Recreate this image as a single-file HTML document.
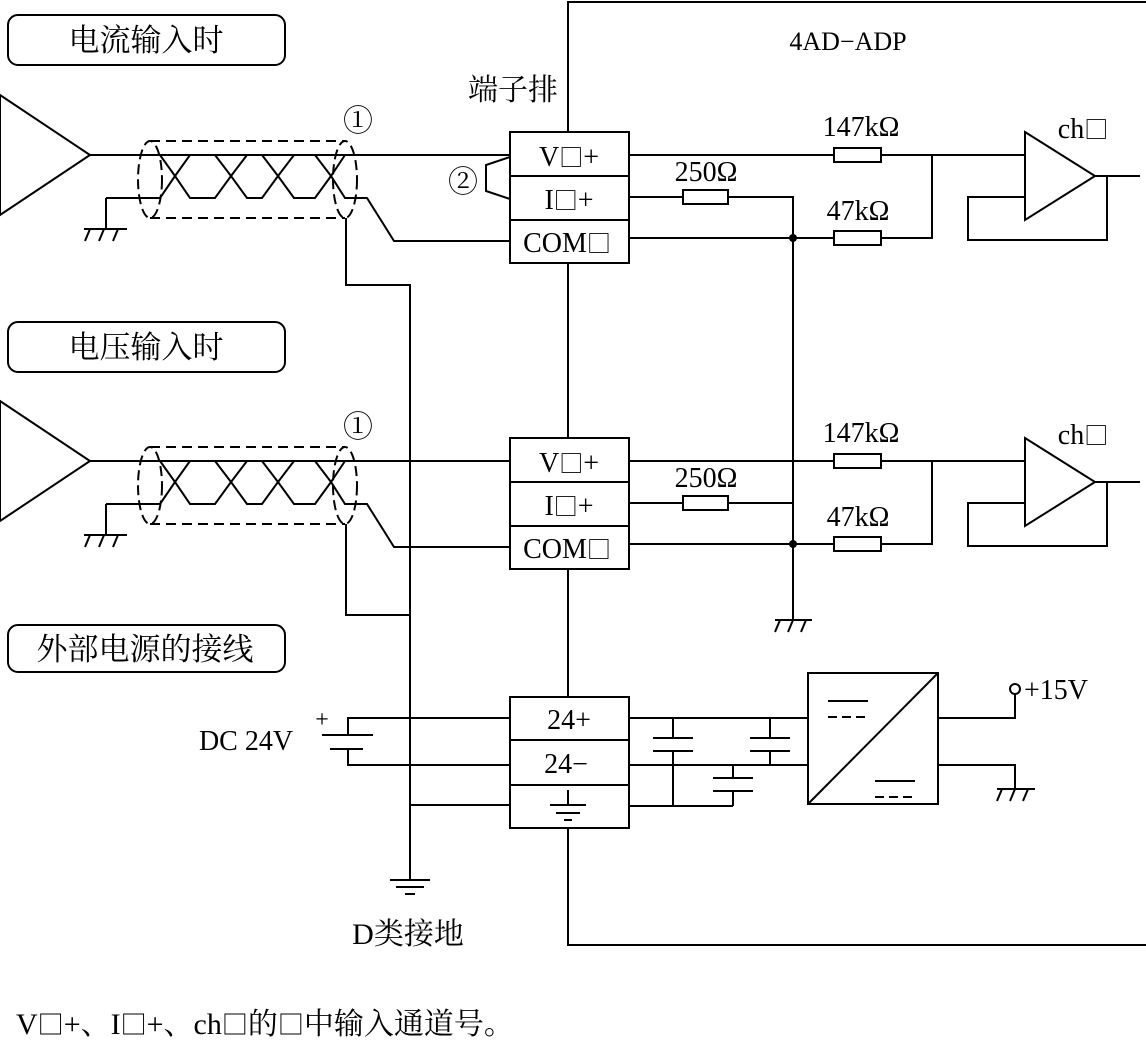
<!DOCTYPE html>
<html><head><meta charset="utf-8"><style>
html,body{margin:0;padding:0;background:#fff;}
svg{display:block;}
text{font-family:"Liberation Serif","Noto Serif CJK SC","Noto Sans CJK SC",serif;fill:#000;}
.cjk{font-family:"Liberation Serif","Noto Serif CJK SC",serif;}
.sq{font-family:"Noto Sans CJK SC",sans-serif;}
</style></head><body>
<svg width="1146" height="1040" viewBox="0 0 1146 1040" xmlns="http://www.w3.org/2000/svg" fill="none" stroke="#000" stroke-width="2">
<defs>
<g id="inp">
  <polygon points="0,95 90,155 0,215" fill="#fff"/>
  <line x1="90" y1="155" x2="510" y2="155"/>
  <polyline points="84,229 127,229"/>
  <line x1="106" y1="198" x2="106" y2="229"/>
  <line x1="106" y1="198" x2="160" y2="198"/>
  <line x1="90" y1="229" x2="85" y2="241"/><line x1="104" y1="229" x2="99" y2="241"/><line x1="118" y1="229" x2="113" y2="241"/>
  <polyline points="160,155 175,176 190,198 215,198 231,176 247,155 262,155 278,176 294,198 315,198 331,176 345,155"/>
  <polyline points="160,198 175,176 190,155 215,155 231,176 247,198 262,198 278,176 294,155 315,155 331,176 345,198 367,198 394,241 510,241"/>
  <line x1="150" y1="141" x2="345" y2="141" stroke-dasharray="10,6"/>
  <line x1="150" y1="218" x2="345" y2="218" stroke-dasharray="10,6"/>
  <ellipse cx="150" cy="179.5" rx="12" ry="38.5" stroke-dasharray="10,5"/>
  <ellipse cx="345" cy="179.5" rx="12" ry="38.5" stroke-dasharray="10,5"/>
  <text x="358" y="131" font-size="30" text-anchor="middle" stroke="none">①</text>
  <rect x="510" y="132" width="119" height="131" fill="#fff"/>
  <line x1="510" y1="176" x2="629" y2="176"/><line x1="510" y1="220" x2="629" y2="220"/>
  <text x="569" y="166" font-size="28" text-anchor="middle" stroke="none">V<tspan class="sq" font-size="24">□</tspan>+</text>
  <text x="569" y="209" font-size="28" text-anchor="middle" stroke="none">I<tspan class="sq" font-size="24">□</tspan>+</text>
  <text x="567" y="252" font-size="28" text-anchor="middle" stroke="none">COM<tspan class="sq" font-size="24">□</tspan></text>
  <line x1="629" y1="155" x2="1025" y2="155"/>
  <rect x="834" y="148" width="47" height="14" fill="#fff"/>
  <text x="861" y="136" font-size="28" text-anchor="middle" stroke="none">147kΩ</text>
  <polyline points="629,197 793,197 793,241"/>
  <rect x="683" y="190" width="45" height="14" fill="#fff"/>
  <text x="706" y="181" font-size="28" text-anchor="middle" stroke="none">250Ω</text>
  <polyline points="629,238 932,238 932,155"/>
  <rect x="834" y="231" width="47" height="14" fill="#fff"/>
  <text x="858" y="220" font-size="28" text-anchor="middle" stroke="none">47kΩ</text>
  <circle cx="793" cy="238" r="4" fill="#000" stroke="none"/>
  <polygon points="1025,132 1095,176 1025,220" fill="#fff"/>
  <polyline points="1025,197 968,197 968,240 1107,240 1107,176"/>
  <line x1="1095" y1="176" x2="1140" y2="176"/>
  <text x="1083" y="138" font-size="28" text-anchor="middle" stroke="none">ch<tspan class="sq" font-size="24">□</tspan></text>
</g>
</defs>
<polyline points="1146,2 568,2 568,945 1146,945"/>
<text x="848" y="50" font-size="26" text-anchor="middle" stroke="none">4AD−ADP</text>
<text class="cjk" x="513" y="100" font-size="30" text-anchor="middle" stroke="none">端子排</text>
<rect x="8" y="15" width="277" height="50" rx="10"/>
<text class="cjk" x="146" y="51" font-size="31" text-anchor="middle" stroke="none">电流输入时</text>
<rect x="8" y="322" width="277" height="50" rx="10"/>
<text class="cjk" x="146" y="358" font-size="31" text-anchor="middle" stroke="none">电压输入时</text>
<rect x="8" y="625" width="277" height="47" rx="10"/>
<text class="cjk" x="145" y="660" font-size="31" text-anchor="middle" stroke="none">外部电源的接线</text>
<polyline points="346,218 346,285 410,285 410,880"/>
<polyline points="346,524 346,615 410,615"/>
<line x1="390" y1="880" x2="430" y2="880"/><line x1="396" y1="887" x2="424" y2="887"/><line x1="405" y1="894" x2="415" y2="894"/>
<text class="cjk" x="408" y="944" font-size="30" text-anchor="middle" stroke="none">D类接地</text>
<line x1="793" y1="238" x2="793" y2="620"/>
<line x1="775" y1="620" x2="812" y2="620"/>
<line x1="780" y1="620" x2="775" y2="632"/><line x1="793" y1="620" x2="788" y2="632"/><line x1="806" y1="620" x2="801" y2="632"/>
<use href="#inp"/>
<use href="#inp" y="306"/>
<polyline points="510,157 486,165 486,191 510,199"/>
<text x="463" y="192" font-size="30" text-anchor="middle" stroke="none">②</text>
<text x="246" y="750" font-size="28" text-anchor="middle" stroke="none">DC 24V</text>
<text x="322" y="727" font-size="24" text-anchor="middle" stroke="none">+</text>
<polyline points="348,735 348,718 510,718"/>
<line x1="322" y1="735" x2="373" y2="735"/>
<line x1="330" y1="749" x2="363" y2="749"/>
<polyline points="348,749 348,765 510,765"/>
<line x1="410" y1="805" x2="510" y2="805"/>
<rect x="510" y="697" width="119" height="131" fill="#fff"/>
<line x1="510" y1="740" x2="629" y2="740"/><line x1="510" y1="785" x2="629" y2="785"/>
<text x="569" y="729" font-size="28" text-anchor="middle" stroke="none">24+</text>
<text x="566" y="773" font-size="28" text-anchor="middle" stroke="none">24−</text>
<line x1="568" y1="790" x2="568" y2="805"/>
<line x1="550" y1="805" x2="586" y2="805"/><line x1="556" y1="813" x2="580" y2="813"/><line x1="564" y1="820" x2="572" y2="820"/>
<line x1="629" y1="718" x2="808" y2="718"/>
<line x1="629" y1="765" x2="808" y2="765"/>
<line x1="629" y1="806" x2="733" y2="806"/>
<polyline points="673,718 673,738"/><line x1="653" y1="738" x2="693" y2="738"/><line x1="653" y1="751" x2="693" y2="751"/><polyline points="673,751 673,806"/>
<polyline points="770,718 770,738"/><line x1="750" y1="738" x2="790" y2="738"/><line x1="750" y1="751" x2="790" y2="751"/><polyline points="770,751 770,765"/>
<polyline points="733,765 733,778"/><line x1="713" y1="778" x2="753" y2="778"/><line x1="713" y1="791" x2="753" y2="791"/><polyline points="733,791 733,806"/>
<rect x="808" y="673" width="130" height="131"/>
<line x1="938" y1="673" x2="808" y2="804"/>
<line x1="828" y1="701" x2="868" y2="701"/><line x1="828" y1="717" x2="868" y2="717" stroke-dasharray="9,5"/>
<line x1="875" y1="781" x2="915" y2="781"/><line x1="875" y1="797" x2="915" y2="797" stroke-dasharray="9,5"/>
<polyline points="938,718 1015,718 1015,694"/>
<circle cx="1015" cy="689" r="5" fill="#fff"/>
<text x="1024" y="699" font-size="28" stroke="none">+15V</text>
<polyline points="938,765 1015,765 1015,789"/>
<line x1="997" y1="789" x2="1035" y2="789"/>
<line x1="1002" y1="789" x2="997" y2="801"/><line x1="1015" y1="789" x2="1010" y2="801"/><line x1="1028" y1="789" x2="1023" y2="801"/>
<text class="cjk" x="16" y="1034" font-size="30" stroke="none">V<tspan class="sq" font-size="26">□</tspan>+、I<tspan class="sq" font-size="26">□</tspan>+、ch<tspan class="sq" font-size="26">□</tspan>的<tspan class="sq" font-size="26">□</tspan>中输入通道号。</text>
</svg>
</body></html>
